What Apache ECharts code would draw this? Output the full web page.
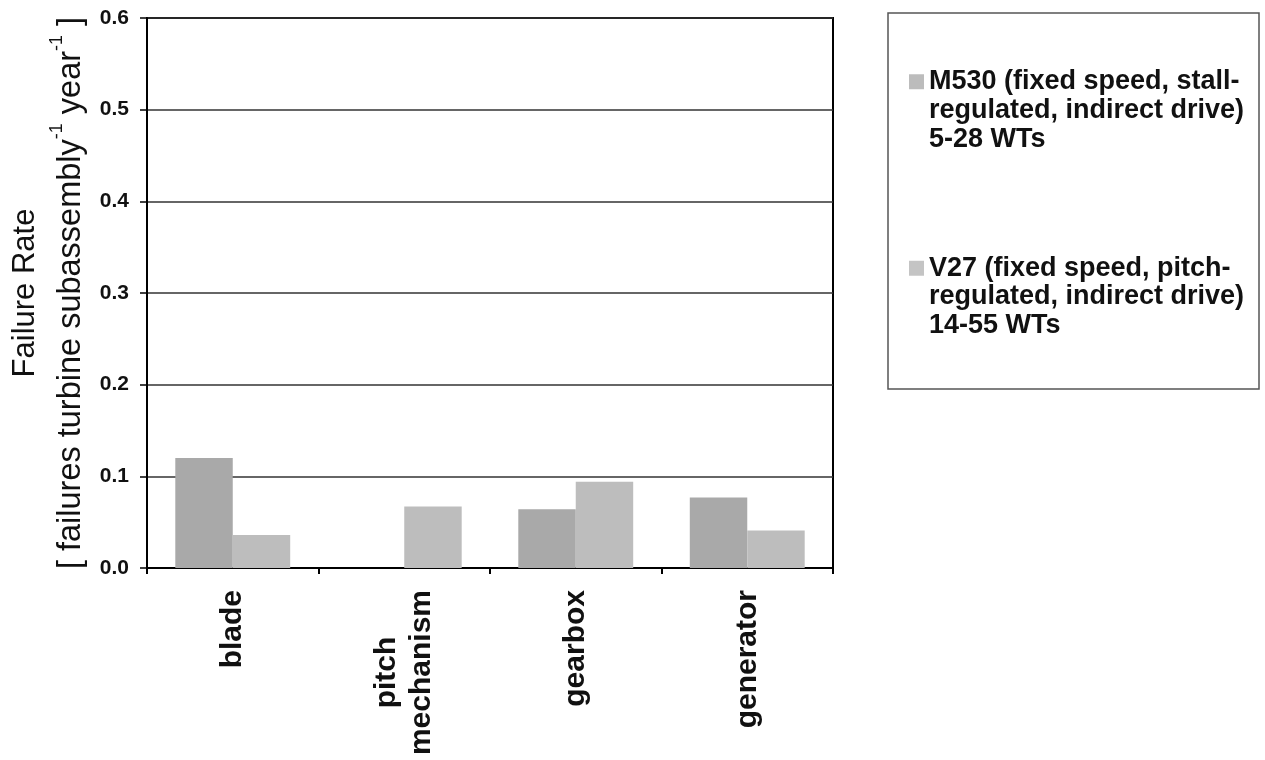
<!DOCTYPE html>
<html>
<head>
<meta charset="utf-8">
<script src="https://cdn.jsdelivr.net/npm/echarts@6/dist/echarts.min.js"></script>
<style>
html,body{margin:0;padding:0;background:#fff;}
#chart{width:1265px;height:760px;}
</style>
</head>
<body>
<div id="chart"></div>
<script>
var categories = ['blade', 'pitch\nmechanism', 'gearbox', 'generator'];
var seriesNames = [
  'M530 (fixed speed, stall-\nregulated, indirect drive)\n5-28 WTs',
  'V27 (fixed speed, pitch-\nregulated, indirect drive)\n14-55 WTs'
];
var m530 = [0.120, 0, 0.064, 0.077];
var v27 = [0.036, 0.067, 0.094, 0.041];
var yTicks = [0, 0.1, 0.2, 0.3, 0.4, 0.5, 0.6];

var FONT = '"Liberation Sans", Arial, Helvetica, sans-serif';
var chart = echarts.init(document.getElementById('chart'), null, {renderer: 'canvas'});

var option = {
  backgroundColor: '#ffffff',
  animation: false,
  textStyle: {fontFamily: FONT},
  graphic: [{
    type: 'rect',
    shape: {x: 888, y: 13, width: 371, height: 376},
    style: {fill: 'none', stroke: '#555', lineWidth: 1.5},
    z: 0
  }],
  legend: {
    orient: 'vertical',
    left: 909,
    top: 10,
    padding: 0,
    itemWidth: 15,
    itemHeight: 15,
    itemGap: 43,
    icon: 'rect',
    selectedMode: false,
    formatter: function (name) { return '\n\n' + name; },
    data: [
      {name: seriesNames[0], itemStyle: {color: '#bcbcbc'}},
      {name: seriesNames[1], itemStyle: {color: '#c4c4c4'}}
    ],
    textStyle: {
      fontFamily: FONT,
      fontWeight: 'bold',
      fontSize: 27,
      lineHeight: 28.7,
      color: '#111'
    }
  },
  grid: {
    left: 147, right: 432, top: 18, bottom: 192,
    show: true, borderColor: '#000', borderWidth: 2, backgroundColor: 'transparent'
  },
  xAxis: {
    type: 'category',
    data: categories,
    axisLine: {lineStyle: {color: '#000', width: 2}},
    axisTick: {show: true, inside: false, length: 6, lineStyle: {color: '#000', width: 2}},
    axisLabel: {
      rotate: 90,
      margin: 22,
      interval: 0,
      formatter: function (v) {
        return v.split('\n').map(function (s) { return '{c|' + s + '}'; }).join('\n');
      },
      rich: {
        c: {align: 'center', fontFamily: FONT, fontWeight: 'bold', fontSize: 30, lineHeight: 35, color: '#111'}
      }
    },
    splitLine: {show: false}
  },
  yAxis: {
    type: 'value',
    min: 0, max: 0.6, interval: 0.1,
    axisLine: {show: true, lineStyle: {color: '#000', width: 2}},
    axisTick: {show: true, inside: false, length: 7, lineStyle: {color: '#000', width: 1.5}},
    axisLabel: {
      margin: 18,
      fontFamily: FONT, fontWeight: 'bold', fontSize: 21, color: '#111',
      formatter: function (v) {
        for (var i = 0; i < yTicks.length; i++) {
          if (Math.abs(yTicks[i] - v) < 1e-9) return yTicks[i].toFixed(1);
        }
        return '';
      }
    },
    splitLine: {show: true, lineStyle: {color: '#333', width: 1.5}},
    name: '{f|Failure Rate}\n{t|[ failures turbine subassembly}{s|-1}{t| year}{s|-1}{t| ]}',
    nameLocation: 'middle',
    nameRotate: 90,
    nameGap: 53,
    nameTextStyle: {
      rich: {
        f: {fontFamily: FONT, fontSize: 31, lineHeight: 46, color: '#111', align: 'center'},
        t: {fontFamily: FONT, fontSize: 32.5, lineHeight: 46, color: '#111', align: 'center'},
        s: {fontFamily: FONT, fontSize: 18, lineHeight: 46, color: '#111', verticalAlign: 'top', padding: [0, 0, 18, 0]}
      }
    }
  },
  series: [
    {
      name: seriesNames[0],
      type: 'bar',
      data: m530,
      barGap: '0%',
      barCategoryGap: '33%',
      itemStyle: {color: '#a9a9a9'}
    },
    {
      name: seriesNames[1],
      type: 'bar',
      data: v27,
      barGap: '0%',
      barCategoryGap: '33%',
      itemStyle: {color: '#bdbdbd'}
    }
  ]
};
chart.setOption(option);
</script>
</body>
</html>
